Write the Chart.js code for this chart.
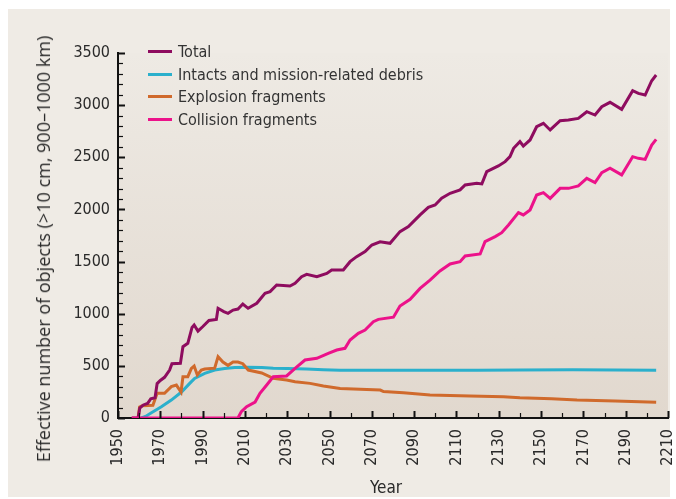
<!DOCTYPE html>
<html>
<head>
<meta charset="utf-8">
<script src="https://cdn.jsdelivr.net/npm/chart.js@4.4.1/dist/chart.umd.min.js"></script>
<style>
  html, body { margin: 0; padding: 0; background: #fff; }
  #wrap { position: relative; width: 676px; height: 499px; }
  #debris { position: absolute; left: 0; top: 0; }
  #legend { position: absolute; left: 148px; top: 40px; font: 16px 'DejaVu Sans Condensed', sans-serif; color: #333; }
  .legend-row { height: 22.8px; display: flex; align-items: center; white-space: nowrap; }
  .swatch { width: 24px; height: 3px; margin-right: 6px; }
  #ytitle { position: absolute; left: 43px; top: 249px; transform: translate(-50%, -50%) rotate(-90deg);
            font: 18px 'Open Sans', sans-serif; color: #2a2a2a; white-space: nowrap; }
  #xtitle { position: absolute; left: 386px; top: 487px; transform: translate(-50%, -50%);
            font: 17px 'DejaVu Sans Condensed', sans-serif; color: #2a2a2a; }
</style>
</head>
<body>
<div id="wrap">
  <canvas id="debris" width="676" height="499"></canvas>
  <div id="legend"></div>
  <div id="ytitle">Effective number of objects (&gt;10 cm, 900–1000 km)</div>
  <div id="xtitle">Year</div>
</div>
<script>
// values
const totalYears = [1956.5, 1959.5, 1960.3, 1962, 1964, 1965.5, 1967.5, 1968.5, 1970, 1972, 1974.4, 1975.5, 1979.5, 1980.7, 1983, 1985, 1986, 1987.8, 1990, 1993, 1996.5, 1997.3, 2000, 2002, 2004.4, 2006.7, 2009, 2011.5, 2015.6, 2019.5, 2021.9, 2025, 2031.3, 2033.7, 2036.8, 2039.2, 2044, 2048.7, 2051, 2056.5, 2059.7, 2062.8, 2066.8, 2070, 2073.9, 2078.6, 2083.3, 2087.3, 2092.8, 2096.7, 2099.9, 2103, 2107, 2111.7, 2114.1, 2119.6, 2122, 2124.3, 2129.8, 2133, 2135.3, 2137, 2140, 2141.6, 2144.8, 2147.9, 2151.1, 2154.3, 2159, 2162.9, 2167.6, 2171.6, 2175.5, 2178.7, 2182.6, 2188.1, 2193.3, 2196, 2199.2, 2202.3, 2204.4];
const totalValues = [0, 0, 95, 125, 140, 185, 195, 330, 360, 390, 460, 520, 524, 684, 716, 868, 892, 833, 875, 935, 945, 1052, 1020, 1004, 1035, 1045, 1093, 1052, 1100, 1196, 1212, 1275, 1266, 1292, 1355, 1378, 1355, 1387, 1420, 1420, 1499, 1547, 1595, 1659, 1690, 1675, 1787, 1835, 1947, 2020, 2043, 2107, 2155, 2187, 2235, 2251, 2245, 2362, 2417, 2458, 2506, 2586, 2650, 2608, 2666, 2793, 2826, 2762, 2851, 2857, 2873, 2937, 2905, 2985, 3027, 2960, 3139, 3113, 3097, 3234, 3289];

const intactYears = [1961, 1963, 1965.8, 1970.5, 1975.2, 1980, 1983.9, 1986.2, 1991, 1995.7, 2000.4, 2005.2, 2011.5, 2018, 2023.4, 2030, 2039.2, 2047, 2055, 2075, 2100, 2120, 2140, 2165, 2185, 2204.4];
const intactValues = [0, 15, 51, 108, 172, 249, 332, 380, 428, 460, 475, 485, 487, 485, 478, 475, 470, 462, 457, 458, 458, 457, 460, 462, 460, 458];

const explosionYears = [1959.5, 1960.2, 1961.5, 1966.5, 1968.5, 1972, 1975.2, 1977.6, 1979.8, 1980.7, 1983, 1984.7, 1986, 1987.5, 1989.4, 1991, 1995.7, 1997.3, 1999.6, 2002, 2004.4, 2006.7, 2009, 2011.6, 2017.9, 2023.4, 2029.7, 2033.7, 2040.8, 2047.1, 2055, 2067.6, 2074, 2075.5, 2084.9, 2097.5, 2116.4, 2132.2, 2140, 2155, 2167, 2185, 2204.4];
const explosionValues = [0, 105, 118, 122, 237, 237, 301, 316, 249, 396, 396, 475, 498, 412, 460, 470, 478, 588, 537, 505, 537, 537, 521, 460, 432, 380, 364, 348, 332, 306, 284, 274, 268, 253, 243, 220, 211, 204, 195, 185, 172, 162, 150];

const collisionYears = [1956.5, 2006.7, 2008.3, 2010.8, 2014.8, 2017.1, 2020.3, 2023.4, 2029.7, 2033.7, 2038.4, 2044, 2049.4, 2053.4, 2057.3, 2059.7, 2063.6, 2066.8, 2070.7, 2073.1, 2080.2, 2083.3, 2088.1, 2092.8, 2097.5, 2102.2, 2107, 2111.7, 2114.1, 2121.2, 2123.5, 2128.3, 2131.4, 2134.6, 2139.3, 2141.6, 2144.8, 2147.9, 2151.1, 2154.3, 2159, 2163, 2167.6, 2171.6, 2175.5, 2178.7, 2182.6, 2188.1, 2193.3, 2196, 2199.2, 2202.3, 2204.4];
const collisionValues = [0, 0, 61, 109, 153, 236, 316, 396, 403, 476, 556, 572, 620, 652, 668, 748, 812, 844, 924, 946, 967, 1074, 1138, 1243, 1323, 1410, 1477, 1499, 1554, 1573, 1691, 1739, 1777, 1851, 1969, 1947, 1995, 2138, 2161, 2106, 2202, 2202, 2225, 2298, 2257, 2353, 2395, 2331, 2506, 2490, 2480, 2617, 2672];

const seriesLabels = ['Total', 'Intacts and mission-related debris', 'Explosion fragments', 'Collision fragments'];
const seriesColors = ['#8e0c5f', '#2bb0cc', '#d06a2c', '#ec128a'];

const xMin = 1950, xMax = 2210, xStep = 20;
const yMin = 0, yMax = 3500, yStep = 500;

const tickFont = { family: "'DejaVu Sans Condensed', sans-serif", size: 16 };

function points(xs, ys) {
    return xs.map((x, i) => ({ x: x, y: ys[i] }));
}

// panel + plot background
const backdrop = {
    id: 'backdrop',
    beforeDraw(chart) {
        const { ctx, chartArea } = chart;
        ctx.save();
        ctx.fillStyle = '#ffffff';
        ctx.fillRect(0, 0, chart.width, chart.height);
        ctx.fillStyle = '#efebe5';
        ctx.fillRect(8, 9, 662, 488);
        const g = ctx.createLinearGradient(0, chartArea.top, 0, chartArea.bottom);
        g.addColorStop(0, '#eeeae4');
        g.addColorStop(1, '#e1d8ce');
        ctx.fillStyle = g;
        ctx.fillRect(chartArea.left, chartArea.top, chartArea.right - chartArea.left, chartArea.bottom - chartArea.top);
        ctx.restore();
    }
};

// inward tick marks, like the original
const tickMarks = {
    id: 'tickMarks',
    afterDraw(chart) {
        const { ctx, chartArea, scales: { x, y } } = chart;
        ctx.save();
        ctx.strokeStyle = '#111';
        for (let v = xMin; v <= xMax; v += 10) {
            const px = Math.round(x.getPixelForValue(v)) + 0.5;
            const major = (v - xMin) % xStep === 0;
            ctx.lineWidth = major ? 2 : 1.2;
            ctx.beginPath();
            ctx.moveTo(px, chartArea.bottom);
            ctx.lineTo(px, chartArea.bottom - (major ? 7 : 5));
            ctx.stroke();
        }
        for (let v = yMin; v <= yMax; v += 100) {
            const py = Math.round(y.getPixelForValue(v)) + 0.5;
            const major = v % yStep === 0;
            ctx.lineWidth = major ? 2 : 1.2;
            ctx.beginPath();
            ctx.moveTo(chartArea.left, py);
            ctx.lineTo(chartArea.left + (major ? 7 : 5), py);
            ctx.stroke();
        }
        ctx.restore();
    }
};

const ctx = document.getElementById('debris').getContext('2d');

const allSeries = [
    points(totalYears, totalValues),
    points(intactYears, intactValues),
    points(explosionYears, explosionValues),
    points(collisionYears, collisionValues)
];
const drawOrder = [1, 3, 2, 0]; // collision on top

const chart = new Chart(ctx, {
    type: 'line',
    data: {
        datasets: allSeries.map((d, i) => ({
            label: seriesLabels[i],
            data: d,
            borderColor: seriesColors[i],
            borderWidth: 3,
            pointRadius: 0,
            tension: 0,
            fill: false,
            order: drawOrder[i]
        }))
    },
    options: {
        responsive: false,
        animation: false,
        layout: { padding: { left: 0, top: 53, right: 8, bottom: 0 } },
        plugins: {
            legend: { display: false },
            tooltip: { enabled: false }
        },
        scales: {
            x: {
                type: 'linear',
                min: xMin,
                max: xMax,
                afterFit(scale) {
                    scale.height = 81;
                    scale.paddingLeft = 0;
                    scale.paddingRight = 0;
                },
                ticks: {
                    stepSize: xStep,
                    minRotation: 90,
                    maxRotation: 90,
                    padding: 11,
                    color: '#2a2a2a',
                    font: tickFont,
                    callback: v => String(v)
                },
                grid: { display: true, drawOnChartArea: false, drawTicks: false, color: 'rgba(0,0,0,0)' },
                border: { display: true, color: '#111', width: 2 }
            },
            y: {
                min: yMin,
                max: yMax,
                afterFit(scale) {
                    scale.width = 118;
                    scale.paddingTop = 0;
                    scale.paddingBottom = 0;
                },
                ticks: {
                    stepSize: yStep,
                    padding: 8,
                    color: '#2a2a2a',
                    font: tickFont,
                    callback: v => String(v)
                },
                grid: { display: true, drawOnChartArea: false, drawTicks: false, color: 'rgba(0,0,0,0)' },
                border: { display: true, color: '#111', width: 2 }
            }
        }
    },
    plugins: [backdrop, tickMarks]
});

// legend as html, from the same labels and colours
const legendEl = document.getElementById('legend');
seriesLabels.forEach((label, i) => {
    const row = document.createElement('div');
    row.className = 'legend-row';
    const sw = document.createElement('span');
    sw.className = 'swatch';
    sw.style.background = seriesColors[i];
    const txt = document.createElement('span');
    txt.textContent = label;
    row.appendChild(sw);
    row.appendChild(txt);
    legendEl.appendChild(row);
});
</script>
</body>
</html>
